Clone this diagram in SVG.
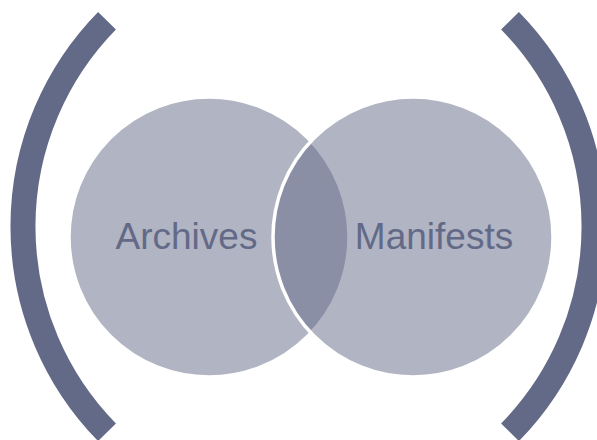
<svg xmlns="http://www.w3.org/2000/svg" width="597" height="440" viewBox="0 0 597 440">
  <style>
    .bracket { fill: none; stroke: #636a87; stroke-width: 25; stroke-linecap: butt; }
    .circle { fill: #636a87; fill-opacity: 0.5; stroke: #ffffff; stroke-width: 3.5; }
    .label { font-family: "Liberation Sans", Arial, sans-serif; font-size: 37px; fill: #636a87; text-anchor: middle; }
  </style>
  <rect width="597" height="440" fill="#ffffff"/>
  <g id="brackets">
    <path class="bracket" d="M 107 20.7 A 294 294 0 0 0 107 432.3"/>
    <path class="bracket" d="M 490 20.7 A 294 294 0 0 1 490 432.3" transform="translate(20 0)"/>
  </g>
  <g id="archives">
    <circle class="circle" cx="209" cy="237" r="140"/>
  </g>
  <g id="manifests">
    <circle class="circle" cx="413" cy="237" r="140"/>
  </g>
  <g id="labels">
    <text class="label" x="186.5" y="249">Archives</text>
    <text class="label" x="434" y="249">Manifests</text>
  </g>
</svg>
